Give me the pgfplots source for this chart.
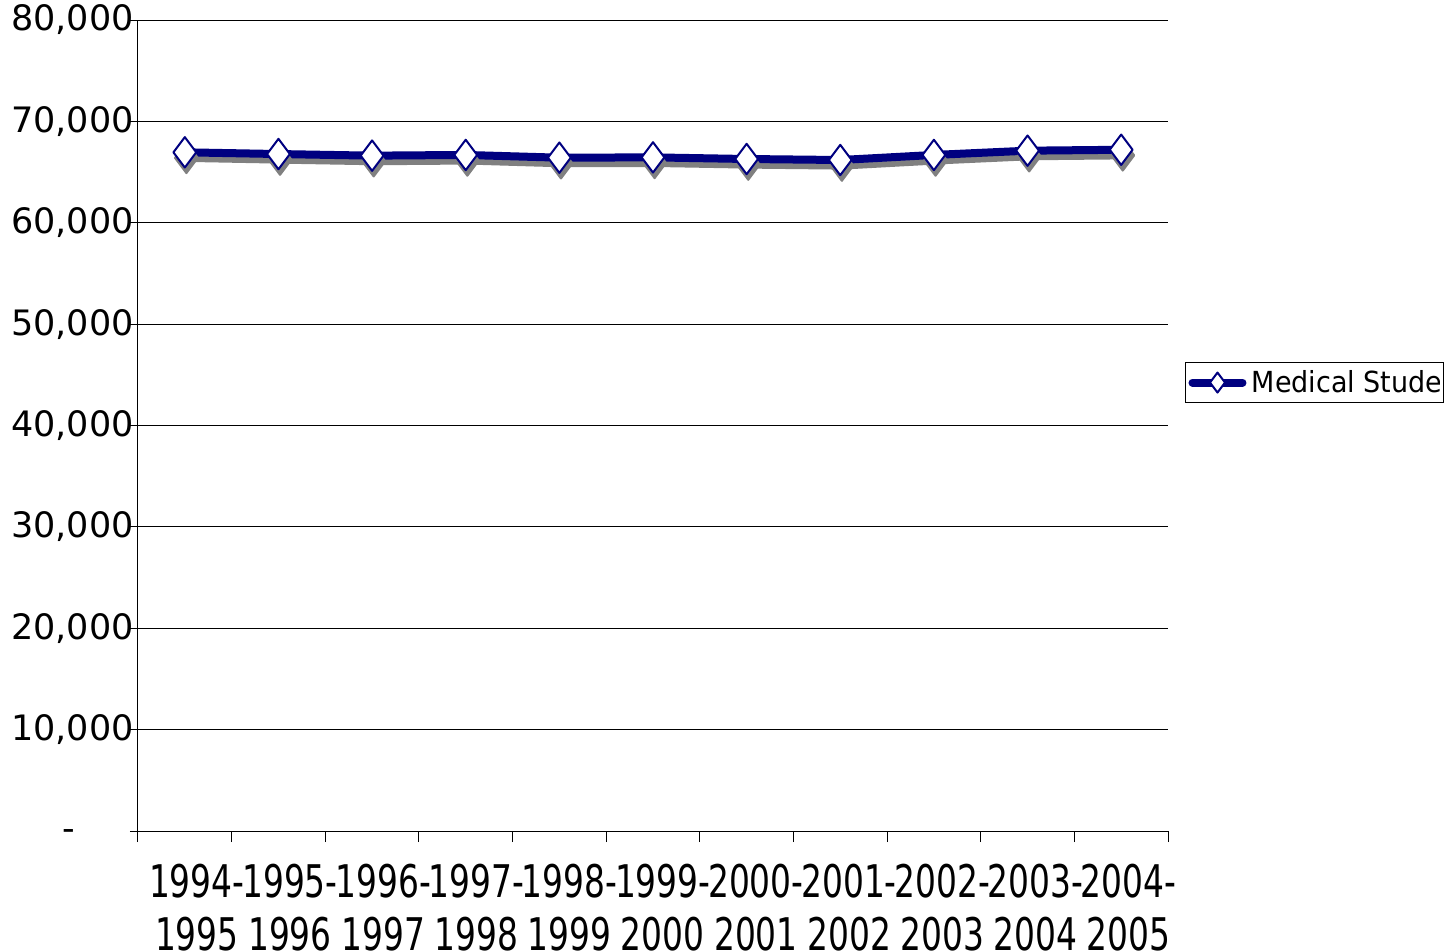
\documentclass[border=0pt]{standalone}
\usepackage{pgfplots}
\pgfplotsset{compat=1.18}
\usepackage{fontspec}
\setmainfont{DejaVu Sans}
\definecolor{navy}{RGB}{0,0,128}
\definecolor{shadowgray}{RGB}{128,128,128}
\newcommand\xl[3]{\makebox[0pt][c]{\kern\dimexpr 12pt-0.45pt*#1\relax\scalebox{0.73}[1]{\begin{tabular}{@{}c@{}}#2\\#3\end{tabular}}}}
\pgfplotstableread{
x y
0 66950
1 66780
2 66620
3 66690
4 66420
5 66450
6 66290
7 66190
8 66690
9 67110
10 67200
}\datatable
\begin{document}
\begin{tikzpicture}
\useasboundingbox (-69pt,-59.5pt) rectangle (656.5pt,415.5pt);
\clip (-69pt,-59.5pt) rectangle (656.5pt,415.5pt);
\begin{axis}[
  at={(0pt,0pt)}, anchor=south west,
  scale only axis, width=515pt, height=405.5pt,
  xmin=-0.5, xmax=10.5, ymin=0, ymax=80000,
  axis x line*=bottom, axis y line*=left,
  axis line style={-, black, line width=0.5pt},
  ytick={0,10000,...,80000},
  yticklabels={{\smash{\raisebox{-4.8pt}{-}}\hspace*{29pt}},{10,000},{20,000},{30,000},{40,000},{50,000},{60,000},{70,000},{80,000}},
  scaled y ticks=false,
  ymajorgrids,
  grid style={black, line width=0.5pt},
  tick align=outside,
  major tick length=4pt,
  minor tick length=5.5pt,
  tick style={black, line width=0.5pt},
  xtick={0,...,10},
  minor xtick={-0.5,0.5,...,10.5},
  major x tick style={draw=none},
  xticklabels={\xl{0}{1994-}{1995},\xl{1}{1995-}{1996},\xl{2}{1996-}{1997},\xl{3}{1997-}{1998},\xl{4}{1998-}{1999},\xl{5}{1999-}{2000},\xl{6}{2000-}{2001},\xl{7}{2001-}{2002},\xl{8}{2002-}{2003},\xl{9}{2003-}{2004},\xl{10}{2004-}{2005}},
  /pgf/number format/assume math mode=true,
  yticklabel style={font=\fontsize{17.5}{20}\selectfont, inner xsep=0.5pt, xshift=2.5pt},
  xticklabel style={font=\fontsize{22.5}{26.5}\selectfont, inner ysep=0pt, yshift=-10.5pt},
  legend style={at={(1.0165,0.5783)}, anchor=north west, draw=black, line width=0.5pt,
    inner xsep=1.5pt, inner ysep=1pt, nodes={inner xsep=0.5pt, inner ysep=2.5pt},
    font=\fontsize{14.5}{17}\selectfont},
  legend cell align=left,
  legend image code/.code={
    \draw[#1, line cap=round, mark size=5pt, mark repeat=2, mark phase=2] plot coordinates {(0pt,0pt) (12.5pt,0pt) (25pt,0pt)};
  },
]
\addplot[shadowgray, line width=4pt, line join=round, mark=diamond*, mark size=7.6pt,
  mark options={fill=shadowgray, draw=shadowgray, line width=1pt}, xshift=0.8pt, yshift=-2.8pt, forget plot]
  table[x=x, y=y] {\datatable};
\addplot[navy, line width=4pt, line join=round, mark=diamond*, mark size=7.6pt,
  mark options={fill=white, draw=navy, line width=1pt}]
  table[x=x, y=y] {\datatable};
\addlegendentry{\tikz[baseline=0pt]{\clip (-2pt,-3.5pt) rectangle (94pt,11.5pt); \node[anchor=base west, inner sep=0pt, text=black] at (0pt,0pt) {\scalebox{0.93}[1]{Medical Students}};}}
\end{axis}
\end{tikzpicture}
\end{document}
